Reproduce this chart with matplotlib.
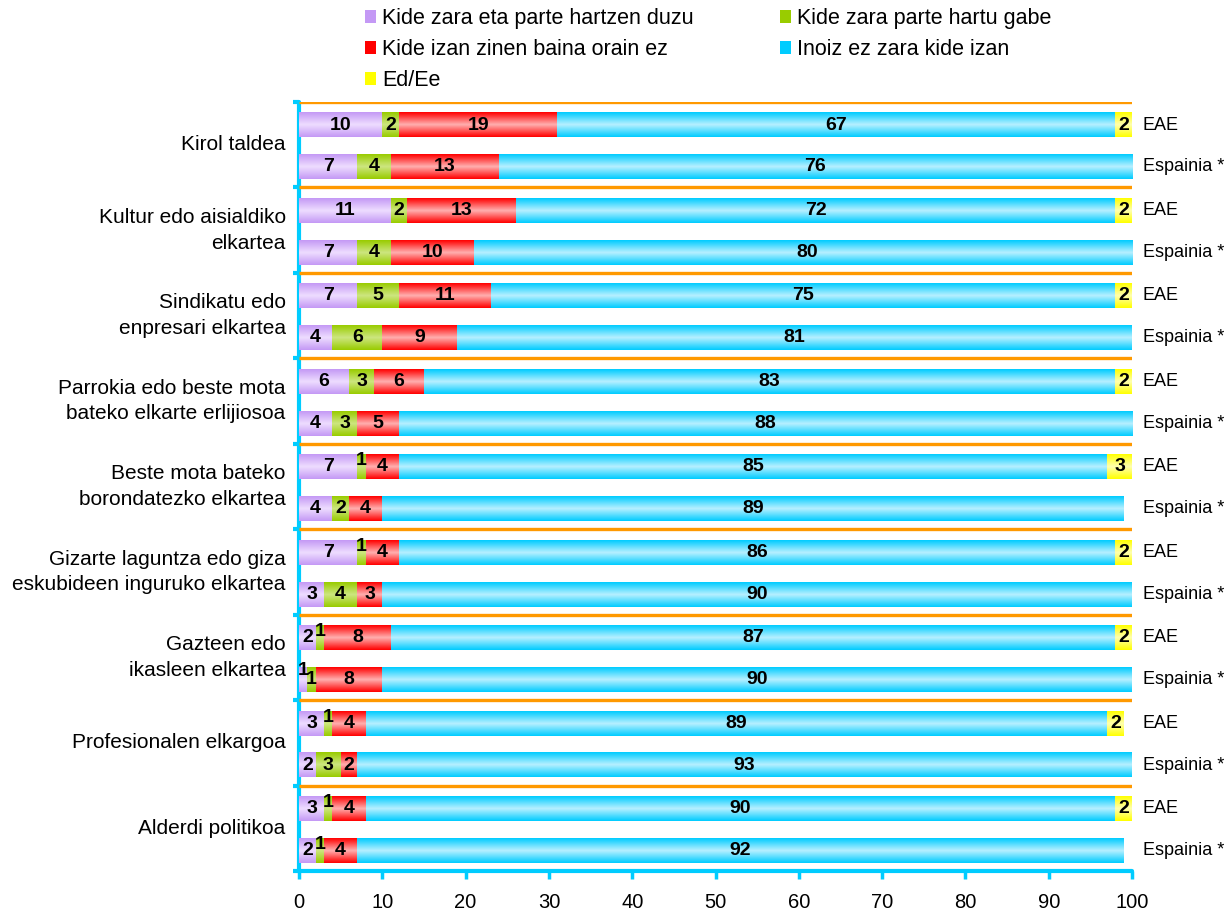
import numpy as np
import matplotlib
matplotlib.use("Agg")
import matplotlib.pyplot as plt
from matplotlib.colors import LinearSegmentedColormap
from matplotlib.patches import Patch

plt.rcParams['font.family'] = ['Liberation Sans', 'DejaVu Sans']

# kategoriak (goitik behera)
categories = [
    "Kirol taldea",
    "Kultur edo aisialdiko\nelkartea",
    "Sindikatu edo\nenpresari elkartea",
    "Parrokia edo beste mota\nbateko elkarte erlijiosoa",
    "Beste mota bateko\nborondatezko elkartea",
    "Gizarte laguntza edo giza\neskubideen inguruko elkartea",
    "Gazteen edo\nikasleen elkartea",
    "Profesionalen elkargoa",
    "Alderdi politikoa",
]
series_names = [
    "Kide zara eta parte hartzen duzu",
    "Kide zara parte hartu gabe",
    "Kide izan zinen baina orain ez",
    "Inoiz ez zara kide izan",
    "Ed/Ee",
]
row_names = ["EAE", "Espainia *"]

# EAE balioak
eae_partaide = [10, 11, 7, 6, 7, 7, 2, 3, 3]
eae_kide = [2, 2, 5, 3, 1, 1, 1, 1, 1]
eae_lehen = [19, 13, 11, 6, 4, 4, 8, 4, 4]
eae_inoiz = [67, 72, 75, 83, 85, 86, 87, 89, 90]
eae_ede = [2, 2, 2, 2, 3, 2, 2, 2, 2]

# Espainia balioak
esp_partaide = [7, 7, 4, 4, 4, 3, 1, 2, 2]
esp_kide = [4, 4, 6, 3, 2, 4, 1, 3, 1]
esp_lehen = [13, 10, 9, 5, 4, 3, 8, 2, 4]
esp_inoiz = [76, 80, 81, 88, 89, 90, 90, 93, 92]
esp_ede = [0, 0, 0, 0, 0, 0, 0, 0, 0]

edge_cols = ["#C499F5", "#99CC00", "#FF0000", "#00CCFF", "#FFFF00"]
mid_cols = ["#EEDDFF", "#CDE680", "#FFB0B0", "#B8F0FF", "#FFFFB0"]
axis_col = "#00CCFF"
line_col = "#FF9900"

fig = plt.figure(figsize=(12.31, 9.13), dpi=100)
ax = fig.add_axes([0.2429, 0.046, 0.6767, 0.8423])

eae = np.array([eae_partaide, eae_kide, eae_lehen, eae_inoiz, eae_ede], dtype=float)
esp = np.array([esp_partaide, esp_kide, esp_lehen, esp_inoiz, esp_ede], dtype=float)

n = len(categories)
ypos = np.arange(n)
bar_h = 0.29
offsets = [0.27, 0.76]

grad = np.linspace(0, 1, 64).reshape(-1, 1)
for s in range(5):
    cmap = LinearSegmentedColormap.from_list("g%d" % s, [edge_cols[s], mid_cols[s], edge_cols[s]])
    for data, off in zip([eae, esp], offsets):
        left = data[:s].sum(axis=0)
        bars = ax.barh(ypos + off, data[s], left=left, height=bar_h, color=edge_cols[s], linewidth=0, zorder=2)
        for j, (b, v) in enumerate(zip(bars, data[s])):
            if v <= 0:
                continue
            x0, y0, w, h = b.get_x(), b.get_y(), b.get_width(), b.get_height()
            ax.imshow(grad, cmap=cmap, extent=[x0, x0 + w, y0 + h, y0], aspect='auto', zorder=3, interpolation='bilinear')
            # ondoz ondoko "1"-ak ez daitezen gainjarri
            prev = data[s - 1][j] if s > 0 else 0
            nxt = data[s + 1][j] if s < 4 else 0
            dy = 0
            if v == 1 and prev != 1:
                dy = -0.11 if nxt == 1 else -0.07
            ax.text(x0 + w / 2, y0 + h / 2 + dy, "%d" % v, ha='center', va='center',
                    fontsize=14, fontweight='bold', color='black', zorder=5)

# orange separators
for i in range(n):
    ax.plot([0, 100], [i, i], color=line_col, lw=2.4, zorder=4, solid_capstyle='butt')

# right side labels
for i in range(n):
    for nm, off in zip(row_names, offsets):
        ax.text(101.3, i + off, nm, ha='left', va='center', fontsize=13, clip_on=False)

# category labels
for i, c in enumerate(categories):
    ax.text(-1.6, i + 0.5, c, ha='right', va='center', multialignment='right',
            fontsize=15, linespacing=1.45, clip_on=False)

ax.set_xlim(0, 100)
ax.set_ylim(n, 0)
ax.set_xticks(np.arange(0, 101, 10))
ax.set_yticks(np.arange(0, n + 1))
ax.set_yticklabels([])
for sp in ['top', 'right']:
    ax.spines[sp].set_visible(False)
for sp in ['left', 'bottom']:
    ax.spines[sp].set_color(axis_col)
    ax.spines[sp].set_linewidth(3)
    ax.spines[sp].set_capstyle('round')
ax.tick_params(axis='y', length=4, width=3, color=axis_col, direction='out')
ax.tick_params(axis='x', length=6, width=2.5, color=axis_col, direction='out', labelsize=14.5, pad=10)

handles = [Patch(facecolor=edge_cols[k], edgecolor='none') for k in [0, 2, 4, 1, 3]]
labels = [series_names[k] for k in [0, 2, 4, 1, 3]]
fig.legend(handles, labels, loc='upper left', bbox_to_anchor=(0.2965, 0.991), ncol=2,
           frameon=False, fontsize=15.5, handlelength=0.5, handleheight=0.5, borderpad=0,
           borderaxespad=0, handletextpad=0.3, columnspacing=4.0, labelspacing=0.46)

fig.savefig("out.png", dpi=100)
